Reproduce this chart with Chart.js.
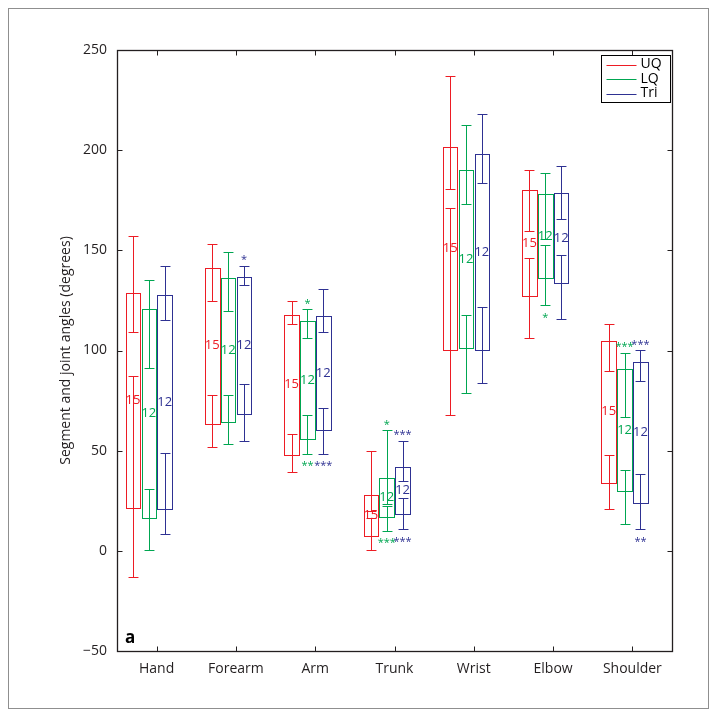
<!DOCTYPE html>
<html>
<head>
<meta charset="utf-8">
<script src="https://cdn.jsdelivr.net/npm/chart.js@4.4.1/dist/chart.umd.min.js"></script>
<style>
  html, body { margin: 0; padding: 0; background: #fff; }
  canvas { display: block; }
</style>
</head>
<body>
<canvas id="c" width="717" height="716"></canvas>
<script>
// Categories, tick labels and series
const categories = ['Hand', 'Forearm', 'Arm', 'Trunk', 'Wrist', 'Elbow', 'Shoulder'];
const yTicks = [-50, 0, 50, 100, 150, 200, 250];
const seriesNames = ['UQ', 'LQ', 'Tri'];
const sampleSizes = [15, 12, 12];

// UQ
const uqMax       = [157.0, 153.0, 124.7, 50.0, 237.0, 190.0, 113.2];
const uqInnerHigh = [109.2, 124.9, 113.1, 19.7, 180.5, 159.5, 89.8];
const uqBoxHigh   = [128.9, 141.4, 117.9, 27.9, 201.6, 180.0, 104.9];
const uqBoxLow    = [21.6, 63.5, 48.0, 7.4, 100.4, 127.2, 34.0];
const uqInnerLow  = [87.5, 77.8, 58.3, 16.4, 171.3, 146.4, 48.0];
const uqMin       = [-13.0, 51.7, 39.3, 0.6, 68.0, 106.2, 20.7];

// LQ
const lqMax       = [135.2, 149.0, 120.6, 60.2, 212.8, 188.6, 98.9];
const lqInnerHigh = [91.3, 119.6, 106.2, 23.6, 173.3, 155.9, 66.8];
const lqBoxHigh   = [120.9, 136.2, 114.7, 36.2, 190.0, 178.0, 90.6];
const lqBoxLow    = [16.4, 64.3, 55.7, 16.9, 101.1, 136.4, 30.1];
const lqInnerLow  = [30.9, 77.8, 68.0, 22.6, 117.7, 152.9, 40.5];
const lqMin       = [0.6, 53.5, 48.3, 9.9, 79.0, 122.6, 13.6];

// Tri
const triMax       = [142.0, 142.2, 130.9, 54.8, 218.3, 192.1, 100.1];
const triInnerHigh = [115.2, 132.9, 109.2, 34.8, 183.8, 165.5, 85.0];
const triBoxHigh   = [127.6, 136.7, 117.1, 41.8, 198.1, 178.6, 94.3];
const triBoxLow    = [21.1, 68.5, 60.2, 18.6, 100.3, 133.7, 24.1];
const triInnerLow  = [49.0, 83.1, 71.1, 26.4, 121.6, 147.9, 38.3];
const triMin       = [8.2, 54.7, 48.5, 10.7, 84.0, 115.6, 10.7];

// Significance marks: [series index, category index, side, text]
const marks = [
  [2, 1, 'above', '*'],
  [1, 2, 'above', '*'],
  [1, 2, 'below', '**'],
  [2, 2, 'below', '***'],
  [1, 3, 'above', '*'],
  [1, 3, 'below', '***'],
  [2, 3, 'above', '***'],
  [2, 3, 'below', '***'],
  [1, 5, 'below', '*'],
  [1, 6, 'above', '***'],
  [2, 6, 'above', '***'],
  [2, 6, 'below', '**']
];

const colors = ['#ed1c24', '#00a651', '#2e3192'];
const FONT = '"Open Sans", "Noto Sans", sans-serif';
const INK = '#231f20';

const series = [
  { max: uqMax, innerHigh: uqInnerHigh, boxHigh: uqBoxHigh, boxLow: uqBoxLow, innerLow: uqInnerLow, min: uqMin },
  { max: lqMax, innerHigh: lqInnerHigh, boxHigh: lqBoxHigh, boxLow: lqBoxLow, innerLow: lqInnerLow, min: lqMin },
  { max: triMax, innerHigh: triInnerHigh, boxHigh: triBoxHigh, boxLow: triBoxLow, innerLow: triInnerLow, min: triMin }
].map((s, i) => Object.assign(s, { name: seriesNames[i], n: sampleSizes[i], color: colors[i] }));

// Group geometry in category units
const groupShift = -0.098;
const boxStep = 0.2;
const boxWidth = 0.183;
const capWidth = 0.125;

const boxPlot = {
  id: 'boxPlot',
  afterDraw(chart) {
    const { ctx, chartArea: a, scales: { x, y } } = chart;
    const unit = x.getPixelForValue(1) - x.getPixelForValue(0);
    const snap = v => Math.round(v) + 0.5;
    const hw = boxWidth * unit / 2;
    const cw = capWidth * unit / 2;
    ctx.save();

    // outer figure frame
    ctx.strokeStyle = '#8f8f8f';
    ctx.lineWidth = 1;
    ctx.strokeRect(8.5, 8.5, 700, 700);

    series.forEach((s, si) => {
      ctx.strokeStyle = s.color;
      ctx.fillStyle = s.color;
      ctx.lineWidth = 1;
      categories.forEach((_, i) => {
        const cx = x.getPixelForValue(i + 1 + groupShift + (si - 1) * boxStep);
        const xc = snap(cx);
        const py = v => snap(y.getPixelForValue(v));
        // box
        const t = py(s.boxHigh[i]), b = py(s.boxLow[i]);
        const l = snap(cx - hw), r = snap(cx + hw);
        ctx.strokeRect(l, t, r - l, b - t);
        // whisker segments with caps
        const segment = (v1, v2) => {
          const y1 = py(v1), y2 = py(v2);
          ctx.beginPath();
          ctx.moveTo(xc, y1); ctx.lineTo(xc, y2);
          ctx.moveTo(xc - cw, y1); ctx.lineTo(xc + cw, y1);
          ctx.moveTo(xc - cw, y2); ctx.lineTo(xc + cw, y2);
          ctx.stroke();
        };
        segment(s.max[i], s.innerHigh[i]);
        segment(s.innerLow[i], s.min[i]);
        // sample size
        ctx.font = '13px ' + FONT;
        ctx.textAlign = 'center';
        ctx.textBaseline = 'middle';
        ctx.fillText(String(s.n), cx, y.getPixelForValue((s.boxHigh[i] + s.boxLow[i]) / 2));
      });
    });

    // significance asterisks
    const starSize = 11;
    ctx.font = starSize + 'px ' + FONT;
    ctx.textAlign = 'center';
    ctx.textBaseline = 'alphabetic';
    marks.forEach(([si, ci, side, text]) => {
      const s = series[si];
      const cx = x.getPixelForValue(ci + 1 + groupShift + (si - 1) * boxStep);
      const yc = side === 'above'
        ? y.getPixelForValue(s.max[ci]) - 9
        : y.getPixelForValue(s.min[ci]) + 9;
      ctx.fillStyle = s.color;
      ctx.fillText(text, cx, yc + 0.58 * starSize);
    });

    // axes frame and inward ticks
    ctx.strokeStyle = INK;
    ctx.lineWidth = 1.3;
    const L = snap(a.left), R = snap(a.right), T = snap(a.top), B = snap(a.bottom);
    ctx.strokeRect(L, T, R - L, B - T);
    ctx.lineWidth = 1;
    const tl = 5;
    ctx.beginPath();
    y.ticks.forEach(tk => {
      const yy = snap(y.getPixelForValue(tk.value));
      ctx.moveTo(L, yy); ctx.lineTo(L + tl, yy);
      ctx.moveTo(R, yy); ctx.lineTo(R - tl, yy);
    });
    x.ticks.forEach(tk => {
      const xx = snap(x.getPixelForValue(tk.value));
      ctx.moveTo(xx, B); ctx.lineTo(xx, B - tl);
      ctx.moveTo(xx, T); ctx.lineTo(xx, T + tl);
    });
    ctx.stroke();

    // panel letter
    ctx.fillStyle = '#000';
    ctx.font = 'bold 17px ' + FONT;
    ctx.textAlign = 'left';
    ctx.textBaseline = 'alphabetic';
    ctx.fillText('a', a.left + 8, a.bottom - 8);

    // legend
    const lw = 69, lh = 47;
    const lx = snap(a.right - 2 - lw), ly = snap(a.top + 5);
    ctx.fillStyle = '#fff';
    ctx.fillRect(lx, ly, lw, lh);
    ctx.strokeStyle = '#000';
    ctx.strokeRect(lx, ly, lw, lh);
    ctx.font = '14px ' + FONT;
    ctx.textBaseline = 'middle';
    series.forEach((s, si) => {
      const ry = ly + 9 + si * 14.5;
      ctx.strokeStyle = s.color;
      ctx.beginPath();
      ctx.moveTo(lx + 5, snap(ry)); ctx.lineTo(lx + 35, snap(ry));
      ctx.stroke();
      ctx.fillStyle = '#000';
      ctx.fillText(s.name, lx + 39, ry);
    });
    ctx.restore();
  }
};

new Chart(document.getElementById('c'), {
  type: 'scatter',
  data: { datasets: [] },
  options: {
    responsive: false,
    animation: false,
    layout: { padding: { left: 0, right: 45, top: 50, bottom: 0 } },
    plugins: { legend: { display: false }, tooltip: { enabled: false } },
    scales: {
      x: {
        type: 'linear',
        min: 0.5,
        max: 7.5,
        grid: { display: false, drawTicks: false },
        border: { display: false },
        afterBuildTicks: s => { s.ticks = categories.map((_, i) => ({ value: i + 1 })); },
        afterFit: s => { s.height = 65; },
        ticks: {
          autoSkip: false,
          maxRotation: 0,
          padding: 10,
          color: INK,
          font: { family: FONT, size: 14 },
          callback: v => categories[v - 1]
        }
      },
      y: {
        type: 'linear',
        min: -50,
        max: 250,
        grid: { display: false, drawTicks: false },
        border: { display: false },
        afterBuildTicks: s => { s.ticks = yTicks.map(v => ({ value: v })); },
        afterFit: s => { s.width = 117; },
        ticks: {
          padding: 10,
          color: INK,
          font: { family: FONT, size: 14 },
          callback: v => (v < 0 ? '\u2212' + Math.abs(v) : String(v))
        },
        title: {
          display: true,
          text: 'Segment and joint angles (degrees)',
          color: INK,
          font: { family: FONT, size: 14 },
          padding: { top: 58, bottom: 0 }
        }
      }
    }
  },
  plugins: [boxPlot]
});
</script>
</body>
</html>
